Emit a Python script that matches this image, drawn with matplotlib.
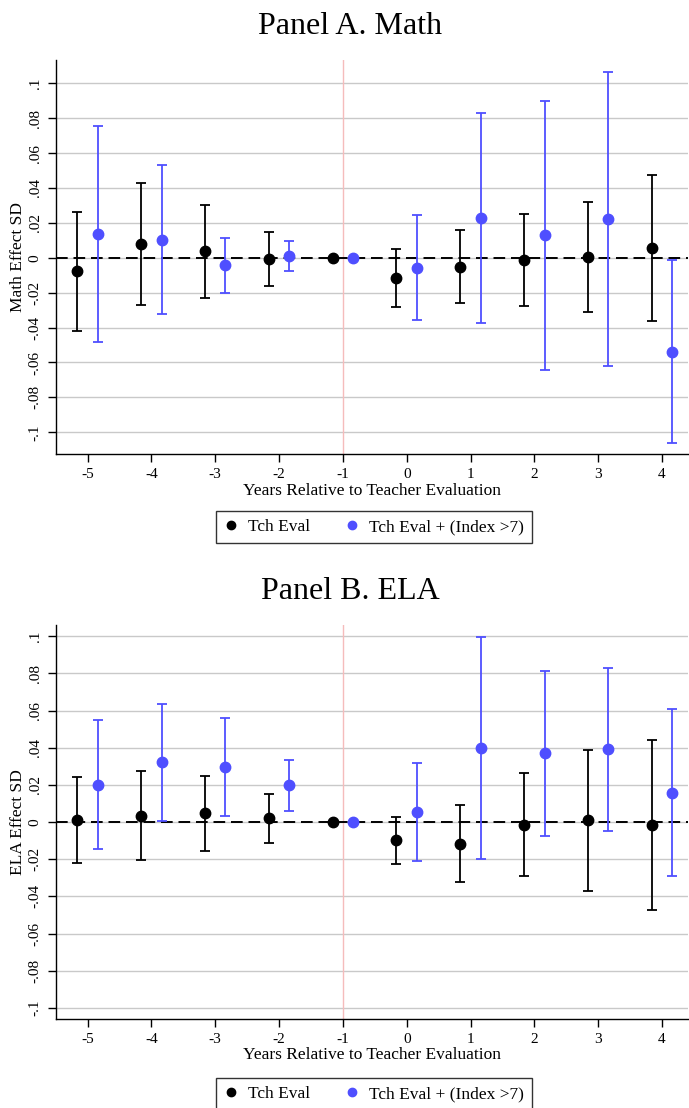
import matplotlib
matplotlib.use("Agg")
import matplotlib.pyplot as plt
from matplotlib.lines import Line2D
import numpy as np

plt.rcParams['font.family'] = ['Liberation Serif', 'DejaVu Serif']

years = [-5, -4, -3, -2, -1, 0, 1, 2, 3, 4]
xtick_labels = ['-5', '-4', '-3', '-2', '-1', '0', '1', '2', '3', '4']
ytick_vals = [-0.1, -0.08, -0.06, -0.04, -0.02, 0, 0.02, 0.04, 0.06, 0.08, 0.1]
ytick_labels = ['-.1', '-.08', '-.06', '-.04', '-.02', '0', '.02', '.04', '.06', '.08', '.1']

# Panel A. Math
math_eval = [-0.0076, 0.0078, 0.0036, -0.0006, 0.0, -0.0115, -0.0050, -0.0013, 0.0004, 0.0057]
math_eval_hi = [0.0264, 0.0430, 0.0302, 0.0147, 0.0, 0.0052, 0.0159, 0.0250, 0.0317, 0.0476]
math_eval_lo = [-0.0420, -0.0273, -0.0229, -0.0159, 0.0, -0.0281, -0.0260, -0.0277, -0.0308, -0.0363]
math_idx = [0.0136, 0.0103, -0.0044, 0.0010, 0.0, -0.0057, 0.0229, 0.0128, 0.0222, -0.0539]
math_idx_hi = [0.0755, 0.0531, 0.0115, 0.0096, 0.0, 0.0245, 0.0831, 0.0898, 0.1066, -0.0015]
math_idx_lo = [-0.0485, -0.0325, -0.0201, -0.0074, 0.0, -0.0355, -0.0372, -0.0644, -0.0621, -0.1062]

# Panel B. ELA
ela_eval = [0.0013, 0.0034, 0.0048, 0.0020, 0.0, -0.0095, -0.0117, -0.0014, 0.0009, -0.0018]
ela_eval_hi = [0.0242, 0.0273, 0.0250, 0.0151, 0.0, 0.0029, 0.0093, 0.0264, 0.0388, 0.0440]
ela_eval_lo = [-0.0219, -0.0203, -0.0154, -0.0111, 0.0, -0.0224, -0.0325, -0.0293, -0.0372, -0.0474]
ela_idx = [0.0199, 0.0321, 0.0294, 0.0199, 0.0, 0.0056, 0.0399, 0.0370, 0.0391, 0.0156]
ela_idx_hi = [0.0551, 0.0636, 0.0558, 0.0335, 0.0, 0.0320, 0.0996, 0.0815, 0.0829, 0.0607]
ela_idx_lo = [-0.0147, 0.0007, 0.0032, 0.0061, 0.0, -0.0212, -0.0197, -0.0075, -0.0047, -0.0293]

series_names = ['Tch Eval', 'Tch Eval + (Index >7)']
BLACK = '#000000'
BLUE = '#4f4fff'
OFF = 0.16

fig = plt.figure(figsize=(6.89, 11.08), dpi=100)

def draw_panel(rect, title, title_y, ylabel, ylim, e, ehi, elo, b, bhi, blo, leg_y):
    ax = fig.add_axes(rect)
    x = np.array(years, dtype=float)
    for yv in ytick_vals:
        ax.axhline(yv, color='#c9c9c9', lw=1.0, zorder=0)
    ax.axvline(-1, color='#f5bcbc', lw=1.0, zorder=1)
    ax.axhline(0, color='black', lw=1.4, ls=(0, (6, 3)), zorder=2)
    e = np.array(e); b = np.array(b)
    ax.errorbar(x - OFF, e, yerr=[e - np.array(elo), np.array(ehi) - e], fmt='o',
                color=BLACK, ms=7.5, elinewidth=1.3, capsize=3.5, capthick=1.3, zorder=3)
    ax.errorbar(x + OFF, b, yerr=[b - np.array(blo), np.array(bhi) - b], fmt='o',
                color=BLUE, ms=7.5, elinewidth=1.3, capsize=3.5, capthick=1.3, zorder=3)
    ax.set_xlim(-5.5, 4.41)
    ax.set_ylim(*ylim)
    ax.set_xticks(years)
    ax.set_xticklabels(xtick_labels, fontsize=11)
    ax.set_yticks(ytick_vals)
    ax.set_yticklabels(ytick_labels, fontsize=11, rotation=90, va='center')
    ax.tick_params(axis='both', direction='out', length=6, width=1, pad=4)
    for s in ['top', 'right']:
        ax.spines[s].set_visible(False)
    for s in ['left', 'bottom']:
        ax.spines[s].set_linewidth(1.0)
    ax.set_xlabel('Years Relative to Teacher Evaluation', fontsize=12.5, labelpad=1)
    ax.set_ylabel(ylabel, fontsize=12.5, labelpad=2)
    fig.text(0.508, title_y, title, ha='center', va='center', fontsize=23)
    handles = [Line2D([], [], ls='none', marker='o', color=BLACK, ms=6),
               Line2D([], [], ls='none', marker='o', color=BLUE, ms=6)]
    leg = fig.legend(handles, series_names, loc='center', bbox_to_anchor=(0.543, leg_y),
                     ncol=2, fontsize=12.5, frameon=True, fancybox=False,
                     edgecolor='black', handlelength=0.8, handletextpad=0.6,
                     columnspacing=2.0, borderpad=0.45)
    leg.get_frame().set_linewidth(1.0)
    return ax

draw_panel([0.0808, 0.590, 0.918, 0.3558], 'Panel A. Math', 0.976, 'Math Effect SD',
           (-0.1126, 0.1133), math_eval, math_eval_hi, math_eval_lo,
           math_idx, math_idx_hi, math_idx_lo, 0.5244)
draw_panel([0.0808, 0.0803, 0.918, 0.3556], 'Panel B. ELA', 0.4665, 'ELA Effect SD',
           (-0.106, 0.106), ela_eval, ela_eval_hi, ela_eval_lo,
           ela_idx, ela_idx_hi, ela_idx_lo, 0.0125)

fig.savefig('out.png', dpi=100)
